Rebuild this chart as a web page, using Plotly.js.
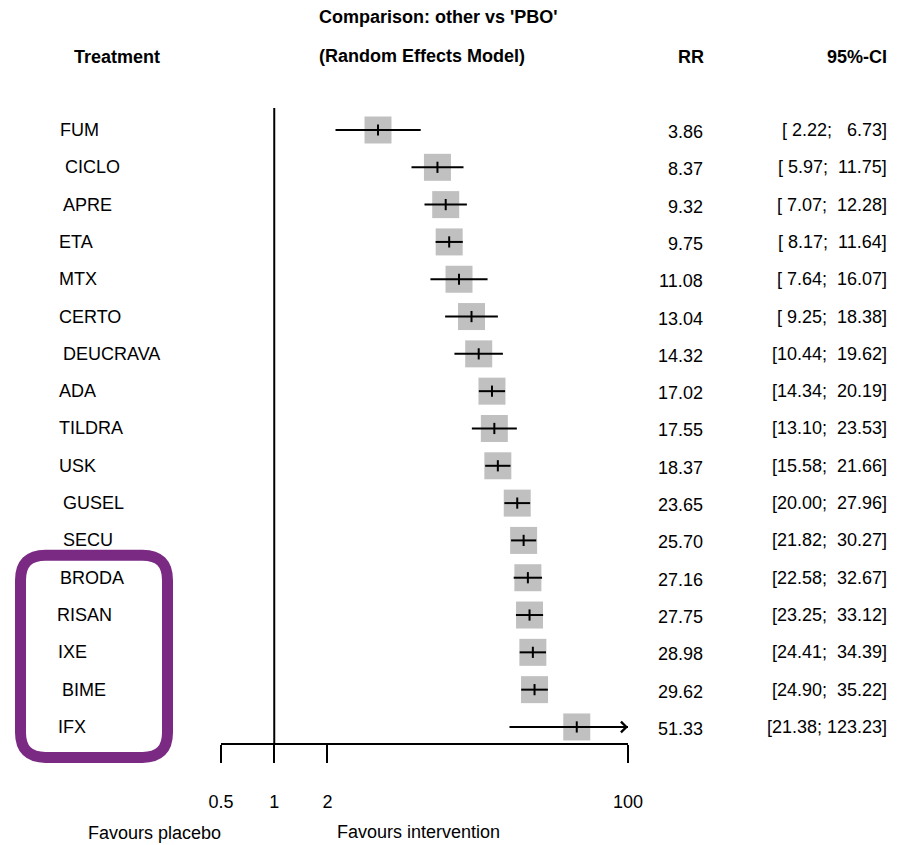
<!DOCTYPE html>
<html><head><meta charset="utf-8">
<script src="https://cdn.plot.ly/plotly-3.0.1.min.js"></script>
<style>html,body{margin:0;padding:0;background:#fff}</style>
</head><body><div id="chart" style="width:919px;height:845px"></div>
<script>
// ---- data ----
const treatments = ["FUM","CICLO","APRE","ETA","MTX","CERTO","DEUCRAVA","ADA","TILDRA","USK","GUSEL","SECU","BRODA","RISAN","IXE","BIME","IFX"];
const rr       = [3.86, 8.37, 9.32, 9.75, 11.08, 13.04, 14.32, 17.02, 17.55, 18.37, 23.65, 25.70, 27.16, 27.75, 28.98, 29.62, 51.33];
const ciLower  = [2.22, 5.97, 7.07, 8.17, 7.64, 9.25, 10.44, 14.34, 13.10, 15.58, 20.00, 21.82, 22.58, 23.25, 24.41, 24.90, 21.38];
const ciUpper  = [6.73, 11.75, 12.28, 11.64, 16.07, 18.38, 19.62, 20.19, 23.53, 21.66, 27.96, 30.27, 32.67, 33.12, 34.39, 35.22, 123.23];
const tickValues = [0.5, 1, 2, 100];
const tickLabels = ["0.5", "1", "2", "100"];
const nullValue = 1;
const highlighted = ["BRODA","RISAN","IXE","BIME","IFX"];

// ---- layout constants (pixels) ----
const W = 919, H = 845;
const M = {l: 221, r: 291, t: 108, b: 102};
const PW = W - M.l - M.r, PH = H - M.t - M.b;
const labelLeftPx = [58,63,61,57,57,57,61,57,57,57,61,61,58,55,56,60,56];
const xMin = 0.5, xMax = 100;
const rowTopPx = 130, rowStepPx = 37.31;
const yTop = (M.t - rowTopPx) / rowStepPx;
const yBot = (H - M.b - rowTopPx) / rowStepPx;
const px2x = p => (p - M.l) / PW;
const px2y = p => 1 - (p - M.t) / PH;

const FONT = "Liberation Sans, Arial, sans-serif";
const rows = treatments.map((_, i) => i);
const fmt = (v, w) => v.toFixed(2).padStart(w, "\u00A0");

// CI lines (clipped to the axis limits)
const lx = [], ly = [];
rows.forEach(i => {
  lx.push(Math.max(ciLower[i], xMin), Math.min(ciUpper[i], xMax), null);
  ly.push(i, i, null);
});

const traces = [
  {type: "scatter", mode: "lines", x: [nullValue, nullValue], y: [yTop, yBot], hoverinfo: "skip",
   line: {color: "#000", width: 2}, cliponaxis: false},
  {type: "scatter", mode: "markers", x: rr, y: rows, hoverinfo: "skip",
   marker: {symbol: "square", size: 27, color: "#C0C0C0", line: {width: 0}}, cliponaxis: false},
  {type: "scatter", mode: "lines", x: lx, y: ly, hoverinfo: "skip",
   line: {color: "#000", width: 2}},
  {type: "scatter", mode: "markers", x: rr, y: rows, hoverinfo: "skip",
   marker: {symbol: "line-ns", size: 8, line: {color: "#000", width: 2}}}
];

const ann = [];
const txt = (text, xpx, ypx, anchor, bold, extra) => Object.assign({
  text: bold ? "<b>" + text + "</b>" : text, xref: "paper", yref: "paper",
  x: px2x(xpx), y: px2y(ypx), xanchor: anchor, yanchor: "middle", showarrow: false,
  font: {family: FONT, size: 18, color: "#000"}
}, extra || {});

// header
ann.push(txt("Comparison: other vs 'PBO'", 317, 17, "left", true));
ann.push(txt("(Random Effects Model)", 317, 56, "left", true));
ann.push(txt("Treatment", 117, 57, "center", true));
ann.push(txt("RR", 706, 57, "right", true));
ann.push(txt("95%-CI", 889, 57, "right", true));

// rows
rows.forEach(i => {
  const common = {xref: "paper", yref: "y", y: i, yanchor: "middle", showarrow: false,
                  font: {family: FONT, size: 18, color: "#000"}};
  ann.push(Object.assign({}, common, {text: treatments[i], x: px2x(labelLeftPx[i]), xanchor: "left"}));
  ann.push(Object.assign({}, common, {text: rr[i].toFixed(2), x: px2x(705), xanchor: "right", yshift: -2}));
  ann.push(Object.assign({}, common, {text: "[" + fmt(ciLower[i], 5) + "; " + fmt(ciUpper[i], 6) + "]",
                                       x: px2x(889), xanchor: "right"}));
  if (ciUpper[i] > xMax) {
    ann.push({xref: "x", yref: "y", axref: "x", ayref: "y", x: Math.log10(xMax), y: i,
              ax: Math.log10(Math.max(ciLower[i], xMin)), ay: i, text: "", showarrow: true,
              arrowhead: 4, arrowsize: 1.3, arrowwidth: 1.6, arrowcolor: "#000", standoff: 0});
  }
});

// footer
ann.push(txt("Favours placebo", 154, 833, "center", false));
ann.push(txt("Favours intervention", 418, 832, "center", false));

// highlight box around the selected treatments
const hi0 = treatments.indexOf(highlighted[0]);
const hi1 = treatments.indexOf(highlighted[highlighted.length - 1]);
const boxTop = rowTopPx + hi0 * rowStepPx - 22.5, boxBot = rowTopPx + hi1 * rowStepPx + 30.5;
const boxL = 20.5, boxR = 167.5, rad = 25;
const X = px2x, Y = px2y;
const boxPath = [
  "M", X(boxL + rad), Y(boxTop), "L", X(boxR - rad), Y(boxTop),
  "Q", X(boxR), Y(boxTop), X(boxR), Y(boxTop + rad),
  "L", X(boxR), Y(boxBot - rad),
  "Q", X(boxR), Y(boxBot), X(boxR - rad), Y(boxBot),
  "L", X(boxL + rad), Y(boxBot),
  "Q", X(boxL), Y(boxBot), X(boxL), Y(boxBot - rad),
  "L", X(boxL), Y(boxTop + rad),
  "Q", X(boxL), Y(boxTop), X(boxL + rad), Y(boxTop), "Z"
].map(v => typeof v === "number" ? v.toFixed(5) : v).join(" ");

const shapes = [
  {type: "path", xref: "paper", yref: "paper", path: boxPath,
   line: {color: "#7B2A84", width: 11}, fillcolor: "rgba(0,0,0,0)"}
];

const layout = {
  width: W, height: H, margin: M, showlegend: false,
  paper_bgcolor: "#fff", plot_bgcolor: "#fff",
  xaxis: {type: "log", range: [Math.log10(xMin), Math.log10(xMax)], showgrid: false, zeroline: false,
          showline: true, linecolor: "#000", linewidth: 2,
          ticks: "outside", ticklen: 18, tickwidth: 2, tickcolor: "#000",
          tickmode: "array", tickvals: tickValues, ticktext: tickLabels,
          ticklabelstandoff: 23, tickfont: {family: FONT, size: 18, color: "#000"}, fixedrange: true},
  yaxis: {range: [yBot, yTop], visible: false, fixedrange: true},
  annotations: ann, shapes: shapes
};

Plotly.newPlot("chart", traces, layout, {displayModeBar: false, staticPlot: true});
</script></body></html>
